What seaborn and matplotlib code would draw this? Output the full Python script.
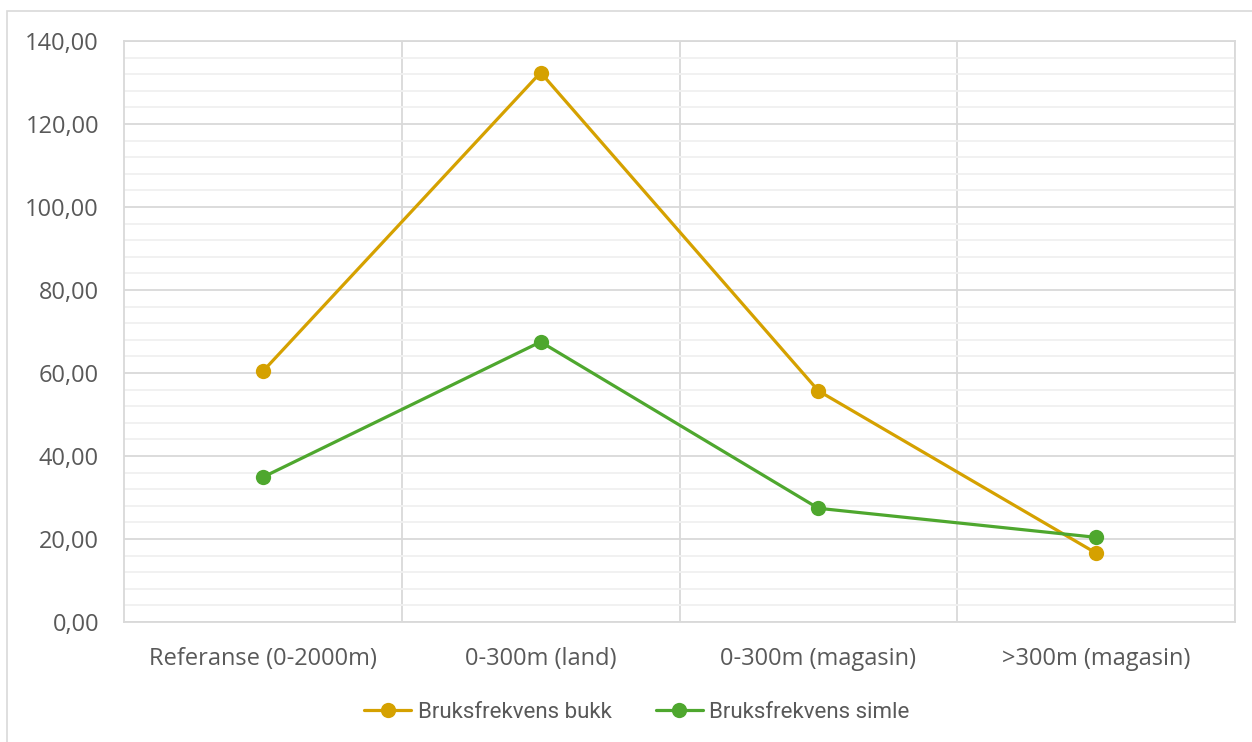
import matplotlib
matplotlib.use("Agg")
import matplotlib.pyplot as plt
import seaborn as sns
import pandas as pd
from matplotlib.ticker import MultipleLocator, FuncFormatter, FixedLocator
from matplotlib.patches import Rectangle

categories = ["Referanse (0-2000m)", "0-300m (land)", "0-300m (magasin)", ">300m (magasin)"]
bukk = [60.4, 132.4, 55.7, 16.6]
simle = [34.9, 67.5, 27.4, 20.4]
series_names = ["Bruksfrekvens bukk", "Bruksfrekvens simle"]
colors = ["#D5A100", "#4EA72E"]

df = pd.DataFrame({
    "pos": list(range(len(categories))) * 2,
    "value": bukk + simle,
    "series": [series_names[0]] * len(bukk) + [series_names[1]] * len(simle),
})

sns.set_style("white")
plt.rcParams["font.family"] = ["Open Sans", "DejaVu Sans"]

fig = plt.figure(figsize=(12.52, 7.42), dpi=100)
ax = fig.add_axes([124 / 1252, 1 - 622 / 742, (1235 - 124) / 1252, (622 - 41) / 742])

sns.lineplot(data=df, x="pos", y="value", hue="series", palette=colors,
             marker="o", markersize=11, markeredgewidth=0, linewidth=2.3,
             sort=False, ax=ax, zorder=3)

ax.set_xlim(-0.5, len(categories) - 0.5)
ax.set_ylim(0, 140)
ax.yaxis.set_major_locator(MultipleLocator(20))
ax.yaxis.set_minor_locator(MultipleLocator(4))
ax.yaxis.set_major_formatter(FuncFormatter(lambda v, p: f"{v:.2f}".replace(".", ",")))
ax.xaxis.set_major_locator(FixedLocator(list(range(len(categories)))))
ax.set_xticklabels(categories)
ax.xaxis.set_minor_locator(FixedLocator([i + 0.5 for i in range(len(categories))]))

ax.grid(which="major", axis="y", color="#D9D9D9", linewidth=1.3, zorder=0)
ax.grid(which="minor", axis="y", color="#F0F0F0", linewidth=1.3, zorder=0)
ax.grid(which="minor", axis="x", color="#D9D9D9", linewidth=1.3, zorder=0)
ax.grid(which="major", axis="x", visible=False)
ax.set_axisbelow(True)

for s in ax.spines.values():
    s.set_color("#D9D9D9")
    s.set_linewidth(1.3)

ax.tick_params(axis="both", which="both", length=0, labelsize=17, colors="#595959")
ax.tick_params(axis="y", pad=18)
ax.tick_params(axis="x", pad=18)
ax.set_xlabel("")
ax.set_ylabel("")

leg = ax.legend(loc="center", bbox_to_anchor=((637 - 124) / 1111, (622 - 712) / (622 - 41)),
                ncol=2, frameon=False, fontsize=16, handlelength=2.1, columnspacing=2.0,
                handletextpad=0.3)
for t in leg.get_texts():
    t.set_color("#595959")
    t.set_family(["Roboto", "DejaVu Sans"])

fig.patches.append(Rectangle((7 / 1252, -0.01), 1.05, 1 - 11 / 742 + 0.01,
                             transform=fig.transFigure, fill=False,
                             edgecolor="#D9D9D9", linewidth=1.2))

fig.savefig("out.png", dpi=100, facecolor="white")
